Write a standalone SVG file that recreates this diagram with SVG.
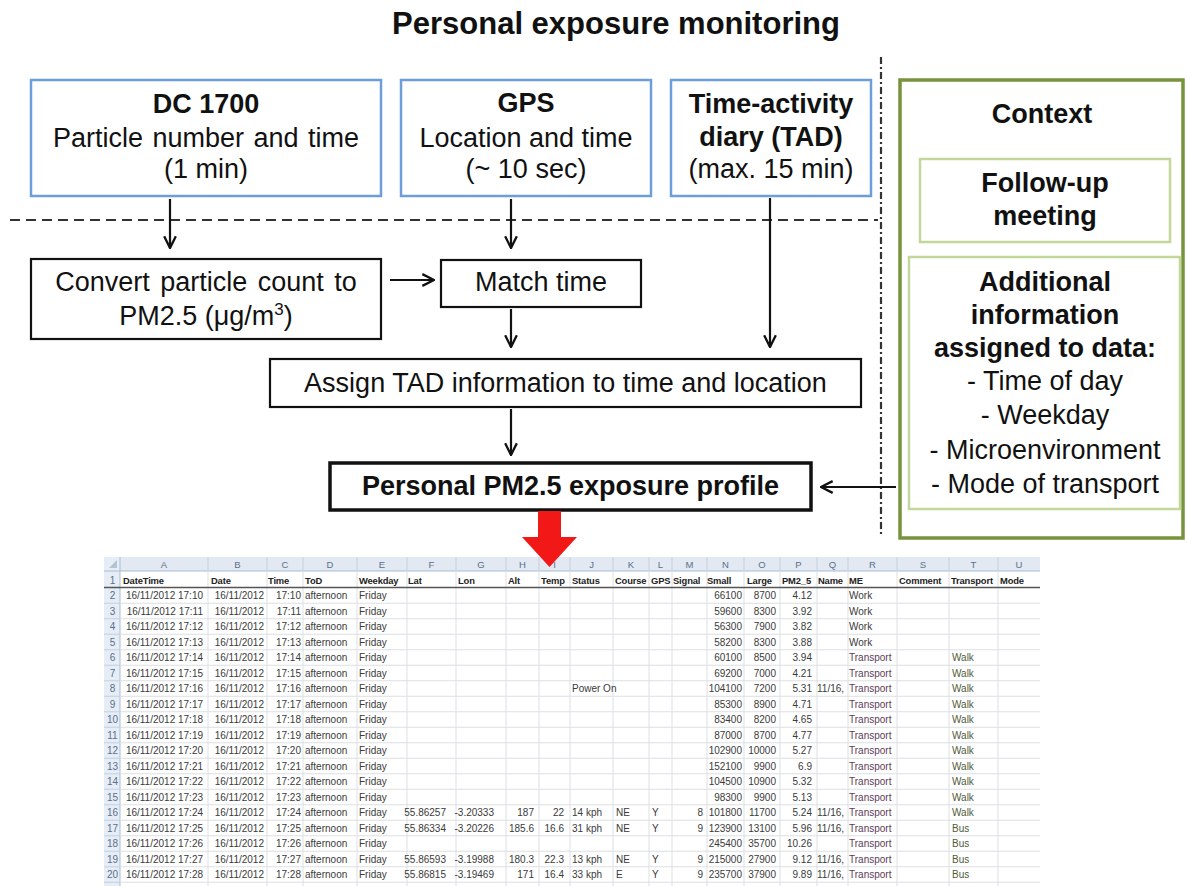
<svg xmlns="http://www.w3.org/2000/svg" width="1188" height="886" viewBox="0 0 1188 886">
<defs>
<style>
text{font-family:"Liberation Sans",Arial,sans-serif}
.t{font-size:27px;text-anchor:middle;fill:#111}
.b{font-weight:bold}
.blue{fill:#fff;stroke:#6d9eda;stroke-width:2.5}
.blk{fill:#fff;stroke:#111;stroke-width:2.2}
.gin{fill:#fff;stroke:#c4d79b;stroke-width:2.5}
.conn{fill:none;stroke:#111;stroke-width:2.2;marker-end:url(#ah)}
.ss text{font-size:10px;fill:#3a3a3a}
.ss .hd{font-weight:bold;fill:#222;font-size:9.4px;letter-spacing:-0.15px}
.ss .cl{text-anchor:middle;fill:#5b6f8a;font-size:9.5px}
.ss .rn{text-anchor:middle;fill:#5b6f8a}
.ss .r{text-anchor:end}
.ss .tp{fill:#5e3b58}
.ss .wk{fill:#4f5b3a}
</style>
<marker id="ah" viewBox="0 0 12 12" refX="11" refY="6" markerWidth="14" markerHeight="14" markerUnits="userSpaceOnUse" orient="auto">
<path d="M1,1 L11,6 L1,11" fill="none" stroke="#111" stroke-width="2"/>
</marker>
</defs>
<rect width="1188" height="886" fill="#fff"/>

<text id="title" x="616" y="34" class="b" font-size="31" text-anchor="middle" fill="#111">Personal exposure monitoring</text>

<g id="separators" fill="none">
<path d="M10,220 H878" stroke="#333" stroke-width="2" stroke-dasharray="10 6"/>
<path d="M881,57 V536" stroke="#333" stroke-width="2.2" stroke-dasharray="7 3 2 3"/>
</g>

<g id="dc1700">
<rect class="blue" x="31" y="80" width="350" height="116"/>
<text class="t b" x="206" y="113">DC 1700</text>
<text class="t" x="206" y="147" word-spacing="2">Particle number and time</text>
<text class="t" x="206" y="178">(1 min)</text>
</g>

<g id="gps">
<rect class="blue" x="401" y="80" width="250" height="116"/>
<text class="t b" x="526" y="112">GPS</text>
<text class="t" x="526" y="147">Location and time</text>
<text class="t" x="526" y="178">(~ 10 sec)</text>
</g>

<g id="tad">
<rect class="blue" x="671" y="80" width="200" height="116"/>
<text class="t b" x="771" y="113">Time-activity</text>
<text class="t b" x="771" y="146">diary (TAD)</text>
<text class="t" x="771" y="178">(max. 15 min)</text>
</g>

<g id="convert">
<rect class="blk" x="31" y="259" width="350" height="80"/>
<text class="t" x="206" y="291" word-spacing="3">Convert particle count to</text>
<text class="t" x="206" y="325">PM2.5 (μg/m<tspan font-size="17" dy="-10">3</tspan><tspan dy="10">)</tspan></text>
</g>

<g id="match">
<rect class="blk" x="441" y="260" width="200" height="47"/>
<text class="t" x="541" y="291">Match time</text>
</g>

<g id="assign">
<rect class="blk" x="270" y="359" width="591" height="48"/>
<text class="t" x="565.5" y="392">Assign TAD information to time and location</text>
</g>

<g id="profile">
<rect x="330" y="463" width="481" height="47" fill="#fff" stroke="#111" stroke-width="3.5"/>
<text class="t b" x="570.5" y="495" font-size="28">Personal PM2.5 exposure profile</text>
</g>

<g id="context">
<rect x="900" y="80" width="283" height="458" fill="#fff" stroke="#77933c" stroke-width="3.5"/>
<text class="t b" x="1042" y="123">Context</text>
<g id="followup">
<rect class="gin" x="920" y="159" width="250" height="83"/>
<text class="t b" x="1045" y="192">Follow-up</text>
<text class="t b" x="1045" y="225">meeting</text>
</g>
<g id="additional">
<rect class="gin" x="909" y="257" width="271" height="252"/>
<text class="t b" x="1045" y="291">Additional</text>
<text class="t b" x="1045" y="324">information</text>
<text class="t b" x="1045" y="357">assigned to data:</text>
<text class="t" x="1045" y="390">- Time of day</text>
<text class="t" x="1045" y="424">- Weekday</text>
<text class="t" x="1045" y="459">- Microenvironment</text>
<text class="t" x="1045" y="493">- Mode of transport</text>
</g>
</g>

<g id="spreadsheet" class="ss">
<rect x="104" y="557" width="936" height="329" fill="#fff"/>
<rect x="104" y="557" width="936" height="14" fill="#e2e9f3"/>
<rect x="104" y="557" width="16" height="329" fill="#e6edf6"/>
<path d="M104,571 H1040 M120,557 V886" stroke="#a9bdd4" stroke-width="1"/>
<path d="M117,560 V568 H109 Z" fill="#b5c2d3"/>
<path d="M208,557 V571 M267,557 V571 M303,557 V571 M357,557 V571 M407,557 V571 M456,557 V571 M506,557 V571 M539,557 V571 M570,557 V571 M613,557 V571 M649,557 V571 M672,557 V571 M707,557 V571 M744,557 V571 M780,557 V571 M817,557 V571 M848,557 V571 M897,557 V571 M949,557 V571 M998,557 V571" stroke="#c3d0df" stroke-width="1"/>
<path d="M208,571 V886 M267,571 V886 M303,571 V886 M357,571 V886 M407,571 V886 M456,571 V886 M506,571 V886 M539,571 V886 M570,571 V886 M613,571 V886 M649,571 V886 M672,571 V886 M707,571 V886 M744,571 V886 M780,571 V886 M817,571 V886 M848,571 V886 M897,571 V886 M949,571 V886 M998,571 V886" stroke="#dcdfe3" stroke-width="1"/>
<path d="M120,603.25 H1040 M120,618.75 H1040 M120,634.25 H1040 M120,649.75 H1040 M120,665.25 H1040 M120,680.75 H1040 M120,696.25 H1040 M120,711.75 H1040 M120,727.25 H1040 M120,742.75 H1040 M120,758.25 H1040 M120,773.75 H1040 M120,789.25 H1040 M120,804.75 H1040 M120,820.25 H1040 M120,835.75 H1040 M120,851.25 H1040 M120,866.75 H1040 M120,882.25 H1040" stroke="#dcdfe3" stroke-width="1"/>
<path d="M104,603.25 H120 M104,618.75 H120 M104,634.25 H120 M104,649.75 H120 M104,665.25 H120 M104,680.75 H120 M104,696.25 H120 M104,711.75 H120 M104,727.25 H120 M104,742.75 H120 M104,758.25 H120 M104,773.75 H120 M104,789.25 H120 M104,804.75 H120 M104,820.25 H120 M104,835.75 H120 M104,851.25 H120 M104,866.75 H120 M104,882.25 H120" stroke="#c3d0df" stroke-width="1"/>
<path d="M104,587.5 H1040" stroke="#555" stroke-width="1.6"/>

<text class="cl" x="164" y="568">A</text><text class="cl" x="237.5" y="568">B</text><text class="cl" x="285" y="568">C</text><text class="cl" x="330" y="568">D</text><text class="cl" x="382" y="568">E</text><text class="cl" x="431.5" y="568">F</text><text class="cl" x="481" y="568">G</text><text class="cl" x="522.5" y="568">H</text><text class="cl" x="554.5" y="568">I</text><text class="cl" x="591.5" y="568">J</text><text class="cl" x="631" y="568">K</text><text class="cl" x="660.5" y="568">L</text><text class="cl" x="689.5" y="568">M</text><text class="cl" x="725.5" y="568">N</text><text class="cl" x="762" y="568">O</text><text class="cl" x="798.5" y="568">P</text><text class="cl" x="832.5" y="568">Q</text><text class="cl" x="872.5" y="568">R</text><text class="cl" x="923" y="568">S</text><text class="cl" x="973.5" y="568">T</text><text class="cl" x="1019" y="568">U</text>

<text class="rn" x="112.5" y="583.5">1</text>
<text class="hd" x="123" y="583.5">DateTime</text><text class="hd" x="211" y="583.5">Date</text><text class="hd" x="268" y="583.5">Time</text><text class="hd" x="305" y="583.5">ToD</text><text class="hd" x="359" y="583.5">Weekday</text><text class="hd" x="408" y="583.5">Lat</text><text class="hd" x="458" y="583.5">Lon</text><text class="hd" x="508" y="583.5">Alt</text><text class="hd" x="541" y="583.5">Temp</text><text class="hd" x="572" y="583.5">Status</text><text class="hd" x="615" y="583.5">Course</text><text class="hd" x="651" y="583.5">GPS</text><text class="hd" x="673" y="583.5">Signal</text><text class="hd" x="707" y="583.5">Small</text><text class="hd" x="747" y="583.5">Large</text><text class="hd" x="782" y="583.5">PM2_5</text><text class="hd" x="818" y="583.5">Name</text><text class="hd" x="849" y="583.5">ME</text><text class="hd" x="899" y="583.5">Comment</text><text class="hd" x="951" y="583.5">Transport</text><text class="hd" x="1000" y="583.5">Mode</text>

<g id="row2"><text class="rn" x="112.5" y="599">2</text><text class="r" x="203" y="599">16/11/2012 17:10</text><text class="r" x="264" y="599">16/11/2012</text><text class="r" x="301" y="599">17:10</text><text x="305" y="599">afternoon</text><text x="359" y="599">Friday</text><text class="r" x="742" y="599">66100</text><text class="r" x="776" y="599">8700</text><text class="r" x="812" y="599">4.12</text><text x="849" y="599">Work</text></g>
<g id="row3"><text class="rn" x="112.5" y="614.5">3</text><text class="r" x="203" y="614.5">16/11/2012 17:11</text><text class="r" x="264" y="614.5">16/11/2012</text><text class="r" x="301" y="614.5">17:11</text><text x="305" y="614.5">afternoon</text><text x="359" y="614.5">Friday</text><text class="r" x="742" y="614.5">59600</text><text class="r" x="776" y="614.5">8300</text><text class="r" x="812" y="614.5">3.92</text><text x="849" y="614.5">Work</text></g>
<g id="row4"><text class="rn" x="112.5" y="630">4</text><text class="r" x="203" y="630">16/11/2012 17:12</text><text class="r" x="264" y="630">16/11/2012</text><text class="r" x="301" y="630">17:12</text><text x="305" y="630">afternoon</text><text x="359" y="630">Friday</text><text class="r" x="742" y="630">56300</text><text class="r" x="776" y="630">7900</text><text class="r" x="812" y="630">3.82</text><text x="849" y="630">Work</text></g>
<g id="row5"><text class="rn" x="112.5" y="645.5">5</text><text class="r" x="203" y="645.5">16/11/2012 17:13</text><text class="r" x="264" y="645.5">16/11/2012</text><text class="r" x="301" y="645.5">17:13</text><text x="305" y="645.5">afternoon</text><text x="359" y="645.5">Friday</text><text class="r" x="742" y="645.5">58200</text><text class="r" x="776" y="645.5">8300</text><text class="r" x="812" y="645.5">3.88</text><text x="849" y="645.5">Work</text></g>
<g id="row6"><text class="rn" x="112.5" y="661">6</text><text class="r" x="203" y="661">16/11/2012 17:14</text><text class="r" x="264" y="661">16/11/2012</text><text class="r" x="301" y="661">17:14</text><text x="305" y="661">afternoon</text><text x="359" y="661">Friday</text><text class="r" x="742" y="661">60100</text><text class="r" x="776" y="661">8500</text><text class="r" x="812" y="661">3.94</text><text class="tp" x="849" y="661">Transport</text><text class="wk" x="952" y="661">Walk</text></g>
<g id="row7"><text class="rn" x="112.5" y="676.5">7</text><text class="r" x="203" y="676.5">16/11/2012 17:15</text><text class="r" x="264" y="676.5">16/11/2012</text><text class="r" x="301" y="676.5">17:15</text><text x="305" y="676.5">afternoon</text><text x="359" y="676.5">Friday</text><text class="r" x="742" y="676.5">69200</text><text class="r" x="776" y="676.5">7000</text><text class="r" x="812" y="676.5">4.21</text><text class="tp" x="849" y="676.5">Transport</text><text class="wk" x="952" y="676.5">Walk</text></g>
<g id="row8"><text class="rn" x="112.5" y="692">8</text><text class="r" x="203" y="692">16/11/2012 17:16</text><text class="r" x="264" y="692">16/11/2012</text><text class="r" x="301" y="692">17:16</text><text x="305" y="692">afternoon</text><text x="359" y="692">Friday</text><text x="572" y="692">Power On</text><text class="r" x="742" y="692">104100</text><text class="r" x="776" y="692">7200</text><text class="r" x="812" y="692">5.31</text><text x="817" y="692">11/16,</text><text class="tp" x="849" y="692">Transport</text><text class="wk" x="952" y="692">Walk</text></g>
<g id="row9"><text class="rn" x="112.5" y="707.5">9</text><text class="r" x="203" y="707.5">16/11/2012 17:17</text><text class="r" x="264" y="707.5">16/11/2012</text><text class="r" x="301" y="707.5">17:17</text><text x="305" y="707.5">afternoon</text><text x="359" y="707.5">Friday</text><text class="r" x="742" y="707.5">85300</text><text class="r" x="776" y="707.5">8900</text><text class="r" x="812" y="707.5">4.71</text><text class="tp" x="849" y="707.5">Transport</text><text class="wk" x="952" y="707.5">Walk</text></g>
<g id="row10"><text class="rn" x="112.5" y="723">10</text><text class="r" x="203" y="723">16/11/2012 17:18</text><text class="r" x="264" y="723">16/11/2012</text><text class="r" x="301" y="723">17:18</text><text x="305" y="723">afternoon</text><text x="359" y="723">Friday</text><text class="r" x="742" y="723">83400</text><text class="r" x="776" y="723">8200</text><text class="r" x="812" y="723">4.65</text><text class="tp" x="849" y="723">Transport</text><text class="wk" x="952" y="723">Walk</text></g>
<g id="row11"><text class="rn" x="112.5" y="738.5">11</text><text class="r" x="203" y="738.5">16/11/2012 17:19</text><text class="r" x="264" y="738.5">16/11/2012</text><text class="r" x="301" y="738.5">17:19</text><text x="305" y="738.5">afternoon</text><text x="359" y="738.5">Friday</text><text class="r" x="742" y="738.5">87000</text><text class="r" x="776" y="738.5">8700</text><text class="r" x="812" y="738.5">4.77</text><text class="tp" x="849" y="738.5">Transport</text><text class="wk" x="952" y="738.5">Walk</text></g>
<g id="row12"><text class="rn" x="112.5" y="754">12</text><text class="r" x="203" y="754">16/11/2012 17:20</text><text class="r" x="264" y="754">16/11/2012</text><text class="r" x="301" y="754">17:20</text><text x="305" y="754">afternoon</text><text x="359" y="754">Friday</text><text class="r" x="742" y="754">102900</text><text class="r" x="776" y="754">10000</text><text class="r" x="812" y="754">5.27</text><text class="tp" x="849" y="754">Transport</text><text class="wk" x="952" y="754">Walk</text></g>
<g id="row13"><text class="rn" x="112.5" y="769.5">13</text><text class="r" x="203" y="769.5">16/11/2012 17:21</text><text class="r" x="264" y="769.5">16/11/2012</text><text class="r" x="301" y="769.5">17:21</text><text x="305" y="769.5">afternoon</text><text x="359" y="769.5">Friday</text><text class="r" x="742" y="769.5">152100</text><text class="r" x="776" y="769.5">9900</text><text class="r" x="812" y="769.5">6.9</text><text class="tp" x="849" y="769.5">Transport</text><text class="wk" x="952" y="769.5">Walk</text></g>
<g id="row14"><text class="rn" x="112.5" y="785">14</text><text class="r" x="203" y="785">16/11/2012 17:22</text><text class="r" x="264" y="785">16/11/2012</text><text class="r" x="301" y="785">17:22</text><text x="305" y="785">afternoon</text><text x="359" y="785">Friday</text><text class="r" x="742" y="785">104500</text><text class="r" x="776" y="785">10900</text><text class="r" x="812" y="785">5.32</text><text class="tp" x="849" y="785">Transport</text><text class="wk" x="952" y="785">Walk</text></g>
<g id="row15"><text class="rn" x="112.5" y="800.5">15</text><text class="r" x="203" y="800.5">16/11/2012 17:23</text><text class="r" x="264" y="800.5">16/11/2012</text><text class="r" x="301" y="800.5">17:23</text><text x="305" y="800.5">afternoon</text><text x="359" y="800.5">Friday</text><text class="r" x="742" y="800.5">98300</text><text class="r" x="776" y="800.5">9900</text><text class="r" x="812" y="800.5">5.13</text><text class="tp" x="849" y="800.5">Transport</text><text class="wk" x="952" y="800.5">Walk</text></g>
<g id="row16"><text class="rn" x="112.5" y="816">16</text><text class="r" x="203" y="816">16/11/2012 17:24</text><text class="r" x="264" y="816">16/11/2012</text><text class="r" x="301" y="816">17:24</text><text x="305" y="816">afternoon</text><text x="359" y="816">Friday</text><text class="r" x="446" y="816">55.86257</text><text class="r" x="494" y="816">-3.20333</text><text class="r" x="534" y="816">187</text><text class="r" x="564" y="816">22</text><text x="572" y="816">14 kph</text><text x="616" y="816">NE</text><text x="652" y="816">Y</text><text class="r" x="703" y="816">8</text><text class="r" x="742" y="816">101800</text><text class="r" x="776" y="816">11700</text><text class="r" x="812" y="816">5.24</text><text x="817" y="816">11/16,</text><text class="tp" x="849" y="816">Transport</text><text class="wk" x="952" y="816">Walk</text></g>
<g id="row17"><text class="rn" x="112.5" y="831.5">17</text><text class="r" x="203" y="831.5">16/11/2012 17:25</text><text class="r" x="264" y="831.5">16/11/2012</text><text class="r" x="301" y="831.5">17:25</text><text x="305" y="831.5">afternoon</text><text x="359" y="831.5">Friday</text><text class="r" x="446" y="831.5">55.86334</text><text class="r" x="494" y="831.5">-3.20226</text><text class="r" x="534" y="831.5">185.6</text><text class="r" x="564" y="831.5">16.6</text><text x="572" y="831.5">31 kph</text><text x="616" y="831.5">NE</text><text x="652" y="831.5">Y</text><text class="r" x="703" y="831.5">9</text><text class="r" x="742" y="831.5">123900</text><text class="r" x="776" y="831.5">13100</text><text class="r" x="812" y="831.5">5.96</text><text x="817" y="831.5">11/16,</text><text class="tp" x="849" y="831.5">Transport</text><text class="wk" x="952" y="831.5">Bus</text></g>
<g id="row18"><text class="rn" x="112.5" y="847">18</text><text class="r" x="203" y="847">16/11/2012 17:26</text><text class="r" x="264" y="847">16/11/2012</text><text class="r" x="301" y="847">17:26</text><text x="305" y="847">afternoon</text><text x="359" y="847">Friday</text><text class="r" x="742" y="847">245400</text><text class="r" x="776" y="847">35700</text><text class="r" x="812" y="847">10.26</text><text class="tp" x="849" y="847">Transport</text><text class="wk" x="952" y="847">Bus</text></g>
<g id="row19"><text class="rn" x="112.5" y="862.5">19</text><text class="r" x="203" y="862.5">16/11/2012 17:27</text><text class="r" x="264" y="862.5">16/11/2012</text><text class="r" x="301" y="862.5">17:27</text><text x="305" y="862.5">afternoon</text><text x="359" y="862.5">Friday</text><text class="r" x="446" y="862.5">55.86593</text><text class="r" x="494" y="862.5">-3.19988</text><text class="r" x="534" y="862.5">180.3</text><text class="r" x="564" y="862.5">22.3</text><text x="572" y="862.5">13 kph</text><text x="616" y="862.5">NE</text><text x="652" y="862.5">Y</text><text class="r" x="703" y="862.5">9</text><text class="r" x="742" y="862.5">215000</text><text class="r" x="776" y="862.5">27900</text><text class="r" x="812" y="862.5">9.12</text><text x="817" y="862.5">11/16,</text><text class="tp" x="849" y="862.5">Transport</text><text class="wk" x="952" y="862.5">Bus</text></g>
<g id="row20"><text class="rn" x="112.5" y="878">20</text><text class="r" x="203" y="878">16/11/2012 17:28</text><text class="r" x="264" y="878">16/11/2012</text><text class="r" x="301" y="878">17:28</text><text x="305" y="878">afternoon</text><text x="359" y="878">Friday</text><text class="r" x="446" y="878">55.86815</text><text class="r" x="494" y="878">-3.19469</text><text class="r" x="534" y="878">171</text><text class="r" x="564" y="878">16.4</text><text x="572" y="878">33 kph</text><text x="616" y="878">E</text><text x="652" y="878">Y</text><text class="r" x="703" y="878">9</text><text class="r" x="742" y="878">235700</text><text class="r" x="776" y="878">37900</text><text class="r" x="812" y="878">9.89</text><text x="817" y="878">11/16,</text><text class="tp" x="849" y="878">Transport</text><text class="wk" x="952" y="878">Bus</text></g>
</g>

<g id="connectors">
<path class="conn" d="M170,199 V248"/>
<path class="conn" d="M511,199 V248"/>
<path class="conn" d="M390,280 H434"/>
<path class="conn" d="M511,309 V347"/>
<path class="conn" d="M770,198 V347"/>
<path class="conn" d="M511,409 V455"/>
<path class="conn" d="M896,487 H821"/>
<polygon id="red-arrow" points="538,511 561,511 561,537 577,537 549.5,567 522,537 538,537" fill="#f21818"/>
</g>
</svg>
